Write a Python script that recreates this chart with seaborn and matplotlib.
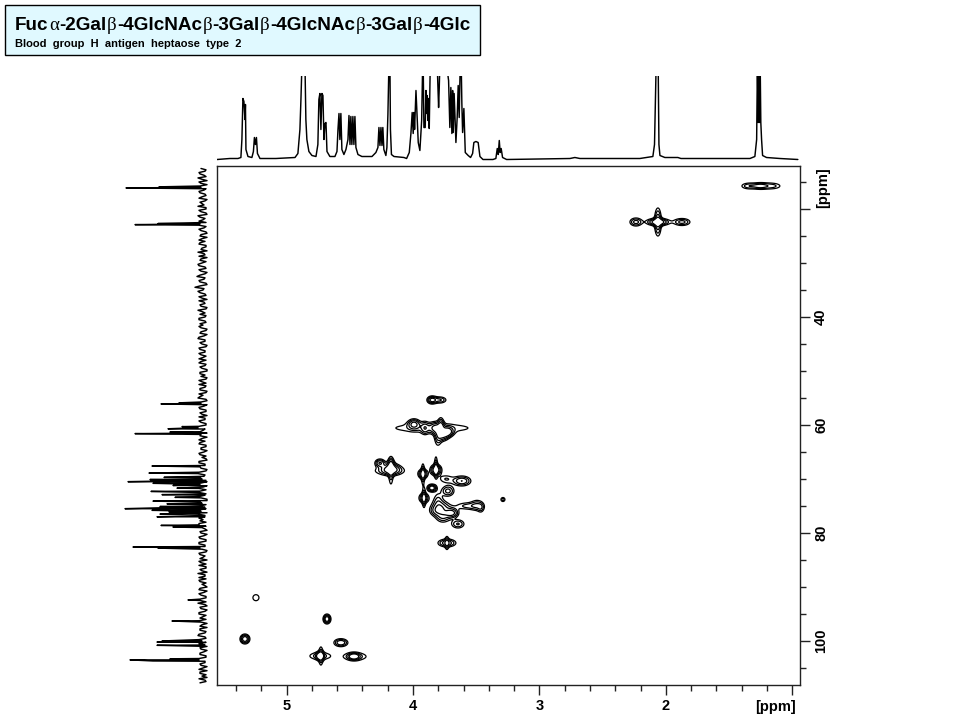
import numpy as np
import matplotlib
matplotlib.use('Agg')
import matplotlib.pyplot as plt
import seaborn as sns
from matplotlib.patches import Rectangle
from matplotlib.ticker import MultipleLocator

# ============================
# DATA
# ============================

# 1H trace, top projection
top_ppm = [5.551, 5.449, 5.385, 5.362, 5.354, 5.346, 5.338, 5.330, 5.326, 5.322, 5.306, 5.275,
           5.263, 5.255, 5.247, 5.239, 5.231, 5.211, 5.085, 4.934, 4.911, 4.895, 4.887, 4.879,
           4.855, 4.848, 4.840, 4.824, 4.800, 4.768, 4.753, 4.745, 4.737, 4.729, 4.721, 4.713,
           4.705, 4.697, 4.689, 4.681, 4.658, 4.618, 4.602, 4.594, 4.586, 4.579, 4.571, 4.563,
           4.547, 4.531, 4.515, 4.507, 4.499, 4.492, 4.484, 4.476, 4.468, 4.460, 4.452, 4.436,
           4.405, 4.325, 4.294, 4.278, 4.270, 4.262, 4.254, 4.246, 4.239, 4.231, 4.215, 4.207,
           4.199, 4.191, 4.183, 4.179, 4.171, 4.151, 4.072, 4.051, 4.030, 4.017, 4.007, 3.999,
           3.993, 3.988, 3.977, 3.970, 3.959, 3.946, 3.932, 3.924, 3.920, 3.914, 3.904, 3.898,
           3.893, 3.888, 3.882, 3.877, 3.872, 3.864, 3.856, 3.809, 3.803, 3.798, 3.793, 3.788,
           3.748, 3.735, 3.719, 3.709, 3.701, 3.693, 3.687, 3.682, 3.675, 3.667, 3.661, 3.651,
           3.643, 3.635, 3.627, 3.619, 3.614, 3.608, 3.598, 3.587, 3.564, 3.545, 3.529, 3.519,
           3.503, 3.485, 3.471, 3.447, 3.368, 3.345, 3.334, 3.326, 3.318, 3.311, 3.303, 3.292,
           3.260, 2.759, 2.720, 2.680, 2.232, 2.206, 2.103, 2.090, 2.082, 2.077, 2.061, 2.055,
           2.047, 2.008, 1.945, 1.905, 1.881, 1.810, 1.430, 1.335, 1.296, 1.282, 1.276, 1.270,
           1.264, 1.260, 1.254, 1.249, 1.243, 1.235, 1.204, 1.098, 0.956]
top_int = [0, 1, 1, 2, 20, 61, 58, 40, 55, 10, 3, 2,
           8, 22, 15, 22, 6, 1, 1, 2, 6, 30, 60, 95,
           95, 40, 20, 8, 4, 3, 15, 60, 66, 30, 66, 64,
           20, 36, 37, 8, 3, 3, 8, 30, 46, 20, 46, 10,
           5, 10, 20, 44, 15, 43, 15, 43, 15, 43, 12, 5,
           3, 3, 7, 12, 32, 14, 32, 14, 32, 10, 4, 12,
           45, 95, 95, 30, 5, 3, 2, 1, 7, 26, 47, 26,
           47, 30, 69, 49, 17, 9, 39, 95, 95, 32, 32, 69,
           46, 64, 39, 61, 31, 95, 95, 95, 71, 52, 71, 95,
           95, 95, 79, 32, 72, 26, 69, 27, 66, 39, 17, 42,
           74, 42, 95, 95, 56, 27, 51, 7, 4, 2, 6, 17,
           18, 17, 3, 0, 0, 1, 11, 5, 19, 7, 11, 2,
           0, 1, 2, 1, 1, 1, 3, 15, 67, 95, 95, 15,
           4, 2, 2, 2, 1, 1, 1, 1, 3, 20, 95, 37,
           95, 37, 95, 37, 20, 4, 2, 1, 0]

# 13C trace, left projection: baseline noise every 0.25 ppm plus the peak tips
noise_int_a = [2, -2, 3, -3, 1, 4, -4, 2, -1, 3, -3, 4, -2, 1, 5, -3, 2, -4, 3, 0,
               -3, 4, -1, 2, -4, 3, 1, -2, 4, -3, 2, 5, -2, -4, 3, 1, 4, -3, 2, -2,
               6, -1, 3, -4, 8, 0, 3, -3, 1, 4, -2, 2, -3, 1, 3, -2, 4, -3, 0, 2,
               -3, 3, -1, 5, -2, 1, -3, 3, -2, 2, 0, -3, 4, -2, 1, -4, 3, 2, -3, 1,
               4, -2, 3, -3, 0, 5, -4, 2, -1, 3, -3, 1, 4, -2, 2, -3, 5, 0, -4, 3,
               1, -2, 4, -3, 2, -1, 3, 1, -4, 4, -2, 2, -3, 5, -1, 1, -4, 3, 0, -3,
               4, -2, 2, -4, 1, 3, -3, 2, 5, -2, 0, -3, 4, 1, -4, 2, -1, 3, -3, 4,
               -2, 1, -3, 3, 0, -4, 2, 4, -3, 1, 5, -2, -3, 3, 1, -4, 4, -1, 2, -3,
               3, 5, -4, 2, -2, 4, 0, -3, 2, 1, -4, 3, -2, 5, -3, 1, 4, -4, 2, -1,
               3, -3, 4, -2, 2, 0, -4, 3, 1, 4, -3]
noise_int_b = [-3, 4, -1, 5, -4, 2, 3, -3, 4, -2, 1, -4, 3, -1, -3, 4, -3, 5, -2, 4,
               3, -3, 4, -3, 2, -4, 4, 3, -3, 1, -4, -1, 4, 2, -3, 5, -2, 4, -4, 3,
               -2, 4, -3, 3, -1, 5, -2, 4, -4, -1, 3, -4, 5, -2, -3, 4, -2, 3, 4, -4,
               2, -4, 4, -2, 3, -4, 4, -2, 4, -3, 4, 2, -3, 3, -4, 3, -2, -4, 4, -3,
               -3, 3, -4, 4, 3, -3, 2, -4, 4, -3, 3, -4, -2, 4, -3, 4, -2, 3, 2, -4,
               4, 3, -3, 2, -4, 4, -3, -3, 4, -2, 3, -4, 4, -2, 3, -3, 2, -4, 4, 3,
               -3, 4, -4, 3, -3, -2, 4, -4, -2, 4, 3, 4, -3, -2, 3, -4, 4, -3, 4, -2,
               3, -4, 4, -2, 3, 4, -3, -3, 3, -4, -2, 4, 4, -3, -2, 3, -4, 4, -3, 3,
               -3, -2, 3, -4, 4, -3, 3, 4, -4, 3, 3, -3, 4, -2, 4, -3, -2, 3, -4, 3,
               -3, 4, -2, 3, -4, 4, 3, -3, -4, -2, 3]
left_peak_ppm = [15.9, 16.1, 22.7, 22.9, 55.9, 56.1, 60.3, 60.7, 61.3, 61.6, 67.6, 68.9, 69.7, 70.1,
                 70.5, 70.8, 71.2, 71.7, 72.3, 72.9, 73.4, 74.1, 74.6, 75.1, 75.3, 75.5, 75.8, 76.1,
                 76.5, 77.0, 78.6, 78.9, 82.6, 82.8, 92.4, 96.3, 100.0, 100.2, 100.8, 103.3, 103.5, 103.7]
left_peak_int = [44, 77, 45, 68, 24, 42, 21, 35, 33, 68, 51, 54, 39, 53,
                 75, 50, 30, 26, 52, 41, 28, 50, 36, 43, 33, 78, 51, 34,
                 43, 46, 42, 30, 70, 45, 15, 31, 41, 46, 46, 33, 73, 50]

# HSQC cross peaks: 1H, 13C, widths and height of each contour blob
cross_h = [3.851, 3.788, 3.851, 3.993, 3.906, 3.827, 3.780, 3.724, 3.764, 3.803,
           4.262, 4.175, 4.175, 4.191, 4.175, 3.922, 3.922, 3.819, 3.819, 3.740,
           3.614, 3.851, 3.724, 3.914, 3.914, 3.803, 3.780, 3.764, 3.693, 3.819,
           3.566, 3.495, 3.463, 3.645, 3.732, 3.732, 3.289, 5.243, 5.330, 4.681,
           4.571, 4.737, 4.737, 4.729, 4.460, 4.468, 2.063, 2.063, 2.237, 1.873,
           1.343, 1.256, 1.169]
cross_c = [55.37, 55.37, 60.56, 59.81, 60.56, 60.56, 60.19, 61.30, 61.85, 62.22,
           67.04, 67.22, 68.15, 68.52, 68.89, 69.07, 69.07, 68.33, 67.78, 70.00,
           70.37, 71.67, 72.22, 73.52, 73.52, 73.89, 75.37, 77.04, 76.30, 75.93,
           75.00, 74.81, 75.37, 78.33, 81.85, 81.85, 73.80, 91.98, 99.63, 95.93,
           100.31, 102.78, 102.78, 102.78, 102.87, 102.87, 22.41, 22.41, 22.41, 22.41,
           15.74, 15.74, 15.74]
cross_sh = [0.0237, 0.0352, 0.294, 0.030, 0.020, 0.029, 0.016, 0.028, 0.030, 0.020,
            0.025, 0.0176, 0.047, 0.098, 0.0134, 0.0237, 0.0088, 0.0265, 0.0088, 0.041,
            0.045, 0.022, 0.033, 0.025, 0.0088, 0.0264, 0.048, 0.0377, 0.033, 0.035,
            0.070, 0.0326, 0.0176, 0.035, 0.0465, 0.010, 0.0134, 0.0245, 0.022, 0.0177,
            0.035, 0.067, 0.0177, 0.0126, 0.0806, 0.0265, 0.053, 0.0175, 0.033, 0.044,
            0.044, 0.038, 0.060]
cross_sc = [0.444, 0.411, 0.76, 0.586, 0.785, 0.686, 1.0, 0.555, 0.70, 1.255,
            0.469, 0.823, 0.665, 0.573, 1.726, 0.555, 1.372, 0.62, 1.372, 0.573,
            0.586, 0.414, 0.648, 0.586, 1.235, 1.03, 0.875, 0.735, 0.555, 0.617,
            0.492, 0.764, 0.617, 0.549, 0.484, 0.942, 0.314, 0.573, 0.517, 0.517,
            0.469, 0.549, 0.414, 1.323, 0.60, 0.362, 0.414, 1.64, 0.518, 0.453,
            0.41, 0.41, 0.44]
cross_amp = [4, 2.5, 1.6, 3.5, 2, 2.5, 3, 4, 3.5, 2,
             3.5, 2.5, 4, 1.6, 2, 4, 2.5, 5, 2.5, 1.6,
             3.5, 5, 2.8, 3.5, 2.5, 1.5, 3, 2.2, 4, 1.5,
             1.9, 1.6, 1.5, 2.5, 3.2, 2, 2, 1.6, 5, 5,
             3.5, 2, 5, 2.2, 1.8, 5, 5, 3.5, 2.8, 2.8,
             2.2, 2.2, 2]

contour_levels = [1.0, 1.6, 2.4, 3.5]

x_tick_values = [5, 4, 3, 2]
y_tick_values = [40, 60, 80, 100]
title_parts = ['Fuc', 'α', '-2Gal', 'β', '-4GlcNAc', 'β', '-3Gal', 'β', '-4GlcNAc', 'β', '-3Gal', 'β', '-4Glc']
subtitle = 'Blood  group  H  antigen  heptaose  type  2'

# ============================
# FIGURE
# ============================

sns.set_theme(style='white', rc={'font.family': ['Liberation Sans', 'DejaVu Sans']})

W, H = 960, 720
fig = plt.figure(figsize=(W / 100, H / 100), dpi=100, facecolor='white')


def axes_px(x0, y0, x1, y1):
    return fig.add_axes([x0 / W, 1 - y1 / H, (x1 - x0) / W, (y1 - y0) / H])


x_range = (5.551, 0.943)
y_range = (108.15, 12.04)

ax = axes_px(217, 166, 799.5, 685)
ax_top = axes_px(217, 76, 799.5, 163)
ax_left = axes_px(120, 166, 212, 685)

# contours of the cross peaks
grid_h = np.linspace(x_range[1], x_range[0], 1400)
grid_c = np.linspace(y_range[1], y_range[0], 1300)
gh, gc = np.meshgrid(grid_h, grid_c)
field = np.zeros_like(gh)
for h0, c0, sh, sc, amp in zip(cross_h, cross_c, cross_sh, cross_sc, cross_amp):
    field += amp * np.exp(-0.5 * ((gh - h0) / sh) ** 2 - 0.5 * ((gc - c0) / sc) ** 2)
ax.contour(gh, gc, field, levels=contour_levels, colors='black', linewidths=0.9)

ax.set_xlim(*x_range)
ax.set_ylim(*y_range)
ax.xaxis.set_major_locator(MultipleLocator(1))
ax.xaxis.set_minor_locator(MultipleLocator(0.2))
ax.yaxis.set_major_locator(MultipleLocator(20))
ax.yaxis.set_minor_locator(MultipleLocator(5))
ax.yaxis.tick_right()
ax.tick_params(axis='both', which='major', direction='out', length=7.2, width=1, color='#222222',
               bottom=True, right=True, left=False, top=False, labelbottom=False, labelright=False)
ax.tick_params(axis='both', which='minor', direction='out', length=4.3, width=1, color='#222222',
               bottom=True, right=True, left=False, top=False)
for s in ax.spines.values():
    s.set_linewidth(1)
    s.set_color('#222222')

# 1H projection
sns.lineplot(x=top_ppm, y=top_int, ax=ax_top, color='black', linewidth=1.05, sort=False, estimator=None)
ax_top.set_xlim(*x_range)
ax_top.set_ylim(-3.5, 83.5)
ax_top.axis('off')

# 13C projection
noise_ppm_a = np.arange(12.5, 108.0, 0.5)
noise_ppm_b = noise_ppm_a + 0.25
left_ppm = np.concatenate([noise_ppm_a, noise_ppm_b, left_peak_ppm])
left_int = np.concatenate([noise_int_a, noise_int_b, left_peak_int])
order = np.argsort(left_ppm)
sns.lineplot(x=left_int[order], y=left_ppm[order], ax=ax_left, color='black', linewidth=1.05,
             sort=False, estimator=None)
ax_left.set_xlim(83, -9)
ax_left.set_ylim(*y_range)
ax_left.axis('off')

# tick labels and units
label_font = dict(fontweight='bold', fontsize=10.5, color='black', family='Liberation Sans')
for v in x_tick_values:
    fig.text((286.7 + (5 - v) * 126.4) / W, 1 - 706 / H, str(v), ha='center', va='center', **label_font)
for v in y_tick_values:
    fig.text(821 / W, 1 - (317 + (v - 40) * 5.4) / H, str(v), ha='center', va='center', rotation=90, **label_font)
fig.text(776 / W, 1 - 707 / H, '[ppm]', ha='center', va='center', **label_font)
fig.text(823 / W, 1 - 188 / H, '[ppm]', ha='center', va='center', rotation=90, **label_font)

# title box
fig.add_artist(Rectangle((5 / W, 1 - 55 / H), 475 / W, 50 / H, transform=fig.transFigure,
                         facecolor='#E0F9FF', edgecolor='black', linewidth=1))
renderer = fig.canvas.get_renderer()
cursor = 15.0
for part in title_parts:
    greek = part in ('α', 'β')
    t = fig.text(cursor / W, 1 - 30 / H, part, ha='left', va='baseline', fontsize=13.55, color='black',
                 family='Liberation Serif' if greek else 'Liberation Sans',
                 fontweight='normal' if greek else 'bold')
    cursor += t.get_window_extent(renderer).width + 0.4
fig.text(15 / W, 1 - 47 / H, subtitle, ha='left', va='baseline', fontsize=8.0, fontweight='bold',
         color='black', family='Liberation Sans')

fig.savefig('out.png', dpi=100)
